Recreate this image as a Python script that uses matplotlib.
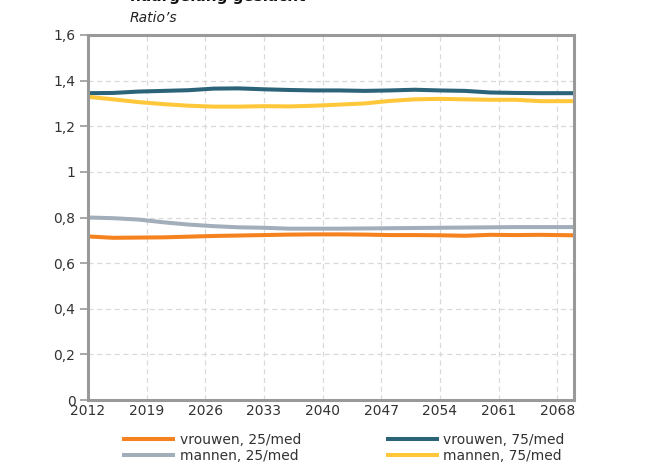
import matplotlib
matplotlib.use("Agg")
import matplotlib.pyplot as plt

years = [2012, 2015, 2018, 2021, 2024, 2027, 2030, 2033, 2036, 2039,
         2042, 2045, 2048, 2051, 2054, 2057, 2060, 2063, 2066, 2070]

vrouwen_25 = [0.717, 0.711, 0.712, 0.713, 0.716, 0.719, 0.721, 0.723, 0.725, 0.726,
              0.726, 0.725, 0.723, 0.723, 0.722, 0.720, 0.724, 0.723, 0.724, 0.722]
mannen_25 = [0.800, 0.797, 0.791, 0.779, 0.769, 0.762, 0.757, 0.755, 0.751, 0.751,
             0.751, 0.752, 0.753, 0.754, 0.755, 0.756, 0.757, 0.758, 0.758, 0.758]
vrouwen_75 = [1.345, 1.346, 1.352, 1.355, 1.358, 1.365, 1.366, 1.362, 1.359, 1.357,
              1.357, 1.355, 1.357, 1.360, 1.357, 1.355, 1.348, 1.346, 1.345, 1.345]
mannen_75 = [1.329, 1.318, 1.306, 1.297, 1.290, 1.286, 1.286, 1.288, 1.287, 1.290,
             1.295, 1.300, 1.311, 1.318, 1.320, 1.318, 1.316, 1.316, 1.310, 1.310]

labels = ["vrouwen, 25/med", "mannen, 25/med", "vrouwen, 75/med", "mannen, 75/med"]
colors = ["#f5821f", "#a3aebb", "#2b6379", "#ffc83a"]

x_ticks = [2012, 2019, 2026, 2033, 2040, 2047, 2054, 2061, 2068]
y_ticks = [0, 0.2, 0.4, 0.6, 0.8, 1.0, 1.2, 1.4, 1.6]
y_tick_labels = ["0", "0,2", "0,4", "0,6", "0,8", "1", "1,2", "1,4", "1,6"]

plt.rcParams['font.family'] = ['DejaVu Sans']

fig = plt.figure(figsize=(6.53, 4.71), dpi=100)
ax = fig.add_axes([88/653, 1-400/471, (574-88)/653, (400-35)/471])

series = [vrouwen_25, mannen_25, vrouwen_75, mannen_75]
handles = []
for vals, lab, col in zip(series, labels, colors):
    h, = ax.plot(years, vals, color=col, lw=2.9, label=lab, solid_capstyle='butt')
    handles.append(h)

ax.set_xlim(2012, 2070)
ax.set_ylim(0, 1.6)
ax.set_xticks(x_ticks)
ax.set_xticklabels([str(t) for t in x_ticks])
ax.set_yticks(y_ticks)
ax.set_yticklabels(y_tick_labels)
ax.grid(True, color="#d9d9d9", linestyle=(0, (4, 3)), linewidth=0.9)
ax.set_axisbelow(True)
for s in ax.spines.values():
    s.set_color("#999999")
    s.set_linewidth(2.2)
ax.tick_params(axis='y', length=6, width=1.2, color="#999999", labelsize=10,
               labelcolor="#333333", pad=3)
ax.tick_params(axis='x', length=0, labelsize=10, labelcolor="#333333", pad=3)

fig.text(130/653, 1-1/471, "naargelang geslacht", fontsize=11, fontweight='bold',
         ha='left', va='baseline', color="#111111")
fig.text(130/653, 1-18/471, "Ratio\u2019s", fontsize=10, fontstyle='italic',
         ha='left', va='center', color="#222222")

fig.legend(handles, labels, ncol=2, loc='upper left',
           bbox_to_anchor=(122/653, 1-433/471), frameon=False,
           fontsize=10, handlelength=3.8, handletextpad=0.35,
           columnspacing=6.1, labelspacing=0.15, borderpad=0, borderaxespad=0,
           labelcolor="#333333")

fig.savefig("out.png", dpi=100)
